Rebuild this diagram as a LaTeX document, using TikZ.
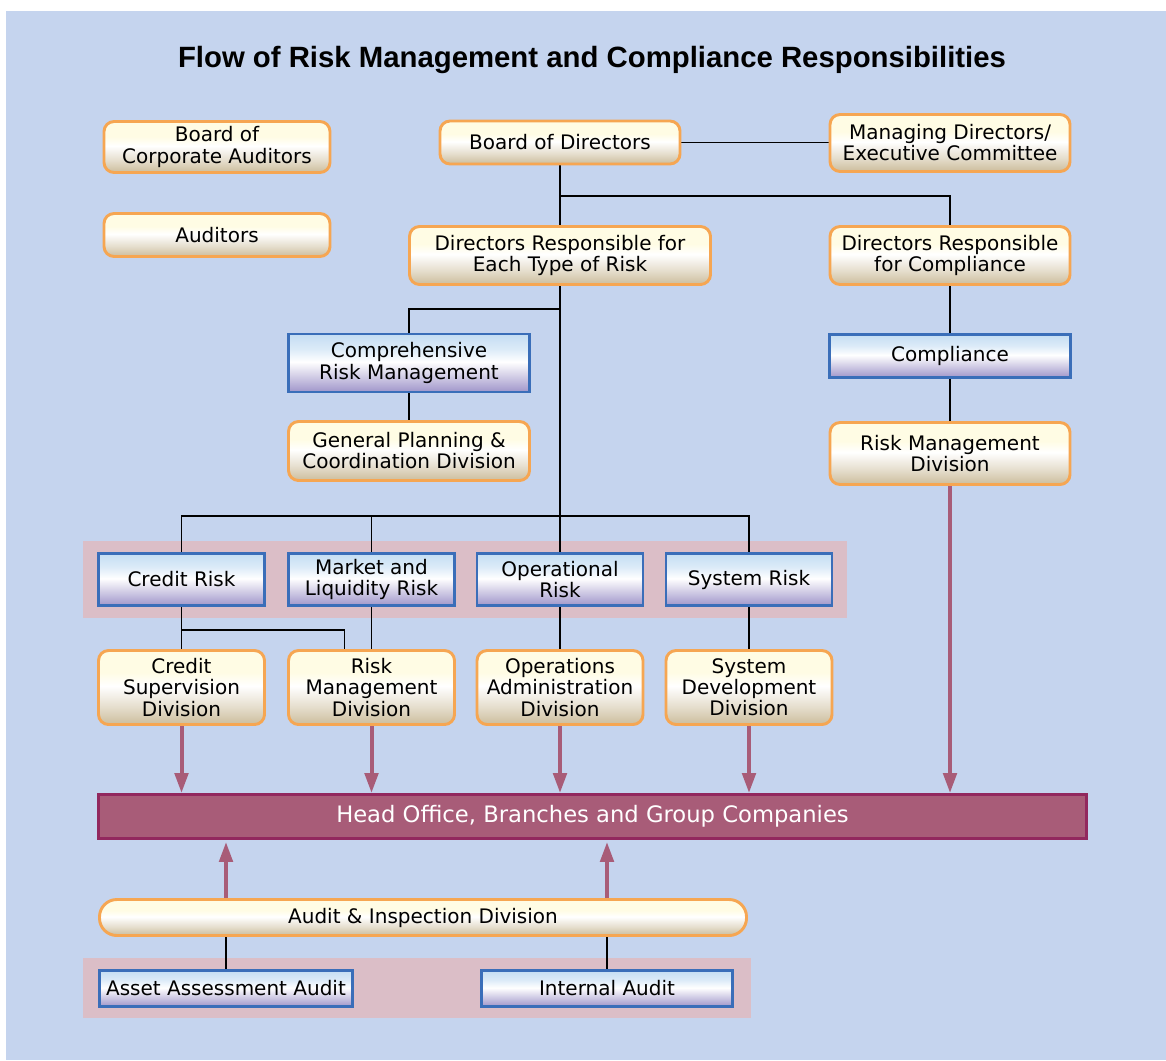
\documentclass[tikz,border=0pt]{standalone}
\usepackage{fontspec}
\setmainfont{DejaVu Sans}
\newfontfamily\titlefont{Liberation Sans}
\usetikzlibrary{arrows.meta}
\definecolor{bgblue}{RGB}{197,212,238}
\definecolor{pinkband}{RGB}{219,190,199}
\definecolor{oborder}{RGB}{246,166,82}
\definecolor{otan}{RGB}{204,189,156}
\definecolor{ocream}{RGB}{255,252,228}
\definecolor{bborder}{RGB}{58,110,185}
\definecolor{lblue}{RGB}{196,221,243}
\definecolor{purp}{RGB}{160,150,202}
\definecolor{mauve}{RGB}{168,92,120}
\definecolor{mauvedark}{RGB}{146,40,94}
\pgfdeclareverticalshading{oshade}{100bp}{color(0bp)=(otan); color(25bp)=(otan); color(37bp)=(otan!50!white); color(51bp)=(white); color(60bp)=(ocream); color(75bp)=(ocream); color(100bp)=(ocream)}
\pgfdeclareverticalshading{bshade}{100bp}{color(0bp)=(purp); color(25bp)=(purp); color(38bp)=(purp!50!white); color(51bp)=(white); color(62bp)=(lblue!60!white); color(75bp)=(lblue); color(100bp)=(lblue)}
\pgfdeclarelayer{back}
\pgfdeclarelayer{links}
\pgfsetlayers{back,links,main}
\begin{document}
\begin{tikzpicture}[x=0.75pt,y=-0.75pt,
  base/.style={font=\fontsize{15}{15.8}\selectfont, align=center, inner sep=1pt},
  sz/.style 2 args={minimum width=(#1-3)*0.75pt, minimum height=(#2-3)*0.75pt},
  obox/.style={base, draw=oborder, line width=2.2pt, rounded corners=7.5pt, shade, shading=oshade},
  bbox/.style={base, draw=bborder, line width=2.2pt, shade, shading=bshade},
  conn/.style={draw=black, line width=0.9pt},
  bigarrow/.style={draw=mauve, line width=3pt, -{Triangle[width=10pt,length=15pt]}}
]
\useasboundingbox (0,0) rectangle (1166,1060);
\begin{pgfonlayer}{back}
  \fill[white] (0,0) rectangle (1166,1060);
  \fill[bgblue] (6,11) rectangle (1166,1060);
  \fill[pinkband] (83,541) rectangle (847,618);
  \fill[pinkband] (83,958) rectangle (751,1018);
\end{pgfonlayer}

\node[font=\titlefont\bfseries\fontsize{22}{24}\selectfont] (title) at (592,60) {Flow of Risk Management and Compliance Responsibilities};

\node[obox, sz={229}{54}] (bca) at (217,147) {Board of\\Corporate Auditors};
\node[obox, sz={229}{46}] (aud) at (217,235) {Auditors};
\node[obox, sz={243}{46}] (bod) at (560,142.5) {Board of Directors};
\node[obox, sz={243}{60}] (md) at (950,143) {Managing Directors/\\Executive Committee};
\node[obox, sz={304}{61}] (drisk) at (560,255.5) {Directors Responsible for\\Each Type of Risk};
\node[obox, sz={243}{61}] (dcomp) at (950,255.5) {Directors Responsible\\for Compliance};
\node[bbox, sz={244}{61}] (crm) at (409,363) {Comprehensive\\Risk Management};
\node[obox, sz={244}{62}] (gpc) at (409,451) {General Planning \&\\Coordination Division};
\node[bbox, sz={244}{46}] (comp) at (950,356) {Compliance};
\node[obox, sz={243}{65}] (rmd2) at (950,453.5) {Risk Management\\Division};

\node[bbox, sz={169}{55}] (cr) at (181.5,579.5) {Credit Risk};
\node[bbox, sz={169}{55}] (mlr) at (371.5,579.5) {Market and\\Liquidity Risk};
\node[bbox, sz={169}{55}] (opr) at (560,579.5) {Operational\\Risk};
\node[bbox, sz={169}{55}] (sr) at (749,579.5) {System Risk};

\node[obox, sz={169}{77}] (csd) at (181.5,687.5) {Credit\\Supervision\\Division};
\node[obox, sz={169}{77}] (rmd1) at (371.5,687.5) {Risk\\Management\\Division};
\node[obox, sz={169}{77}] (oad) at (560,687.5) {Operations\\Administration\\Division};
\node[obox, sz={169}{77}] (sdd) at (749,687.5) {System\\Development\\Division};

\node[base, font=\fontsize{17}{18}\selectfont, text=white, fill=mauve, draw=mauvedark, line width=2.2pt, sz={991}{47}] (ho) at (592.5,816.5) {Head Office, Branches and Group Companies};

\node[obox, rounded corners=13pt, sz={650}{39}] (aid) at (423,917.5) {Audit \& Inspection Division};
\node[bbox, sz={256}{39}] (aaa) at (226,988.5) {Asset Assessment Audit};
\node[bbox, sz={254}{39}] (ia) at (607,988.5) {Internal Audit};

\coordinate (j1) at (560,196);
\coordinate (j2) at (560,309);
\coordinate (bus) at (560,516);
\coordinate (j3) at (181.5,630);

\begin{pgfonlayer}{links}
  \draw[conn] (bod.east) -- (bod.east -| md.west);
  \draw[conn] (bod.south) -- (drisk.north);
  \draw[conn] (j1) -| (dcomp.north);
  \draw[conn] (drisk.south) -- (bus);
  \draw[conn] (j2) -| (crm.north);
  \draw[conn] (crm.south) -- (gpc.north);
  \draw[conn] (cr.north) |- (bus) -| (sr.north);
  \draw[conn] (mlr.north) -- (mlr.north |- bus);
  \draw[conn] (bus) -- (opr.north);
  \draw[conn] (cr.south) -- (csd.north);
  \draw[conn] (j3) -| ([xshift=-20.25pt]rmd1.north);
  \draw[conn] (mlr.south) -- (rmd1.north);
  \draw[conn] (opr.south) -- (oad.north);
  \draw[conn] (sr.south) -- (sdd.north);
  \draw[conn] (dcomp.south) -- (comp.north);
  \draw[conn] (comp.south) -- (rmd2.north);
  \draw[conn] (aaa.north) -- (aaa.north |- aid.south);
  \draw[conn] (ia.north) -- (ia.north |- aid.south);
  \draw[bigarrow] (csd.south) -- (csd.south |- ho.north);
  \draw[bigarrow] (rmd1.south) -- (rmd1.south |- ho.north);
  \draw[bigarrow] (oad.south) -- (oad.south |- ho.north);
  \draw[bigarrow] (sdd.south) -- (sdd.south |- ho.north);
  \draw[bigarrow] (rmd2.south) -- (rmd2.south |- ho.north);
  \draw[bigarrow] (aaa.north |- aid.north) -- ([yshift=-1.5pt]aaa.north |- ho.south);
  \draw[bigarrow] (ia.north |- aid.north) -- ([yshift=-1.5pt]ia.north |- ho.south);
\end{pgfonlayer}
\end{tikzpicture}
\end{document}
